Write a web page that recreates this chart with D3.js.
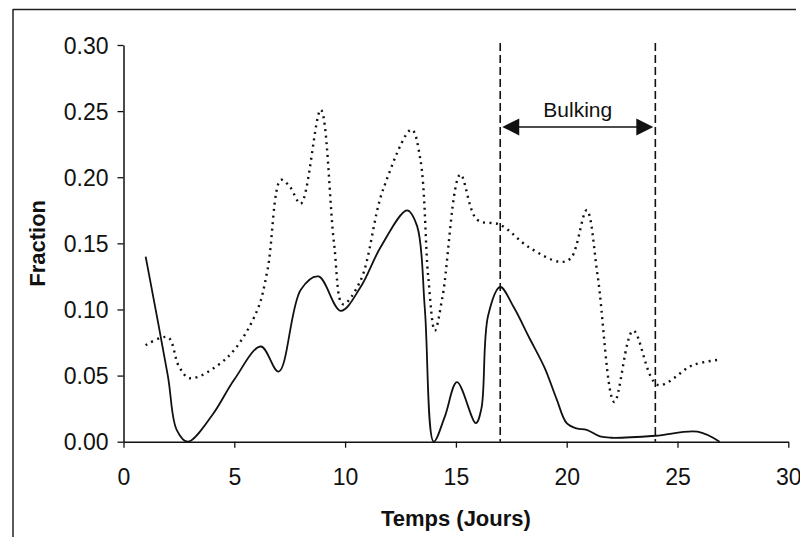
<!DOCTYPE html>
<html>
<head>
<meta charset="utf-8">
<script src="https://cdn.jsdelivr.net/npm/d3@7"></script>
<style>
  html, body { margin: 0; padding: 0; background: #fff; }
  svg { display: block; font-family: "Liberation Sans", Arial, sans-serif; }
</style>
</head>
<body>
<svg id="chart" width="800" height="537"></svg>
<script>
// ---- data ----
const xTicks = [0, 5, 10, 15, 20, 25, 30];
const yTicks = [0, 0.05, 0.10, 0.15, 0.20, 0.25, 0.30];

const solidDays   = [1, 2, 2.4, 2.9, 4, 5, 6.2, 7, 8, 8.8, 9.8, 10.7, 11.6, 12.8, 13.25, 13.6, 14.0, 14.5, 15.05, 15.9, 16.15, 16.45, 17, 17.6, 18.3, 19, 19.55, 20, 20.45, 20.9, 21.5, 22, 24, 25.9, 26.9];
const solidValues = [0.140, 0.050, 0.009, 0.000, 0.020, 0.047, 0.072, 0.053, 0.115, 0.125, 0.099, 0.117, 0.147, 0.175, 0.163, 0.100, 0.000, 0.019, 0.045, 0.014, 0.025, 0.095, 0.117, 0.102, 0.079, 0.056, 0.032, 0.014, 0.010, 0.009, 0.004, 0.003, 0.0045, 0.0076, 0.000];

const dottedDays   = [1, 2, 2.5, 3, 4.7, 6, 6.5, 7.1, 7.5, 8, 8.9, 9.5, 9.9, 10.7, 11.7, 13.0, 13.4, 13.75, 14.05, 14.4, 15.2, 15.95, 17, 18.3, 19.7, 20.2, 20.9, 21.4, 22.15, 23, 24.1, 25.7, 26.9];
const dottedValues = [0.073, 0.079, 0.057, 0.048, 0.064, 0.098, 0.130, 0.198, 0.193, 0.180, 0.251, 0.150, 0.104, 0.122, 0.190, 0.236, 0.213, 0.125, 0.084, 0.110, 0.202, 0.168, 0.164, 0.147, 0.136, 0.139, 0.175, 0.125, 0.030, 0.084, 0.043, 0.058, 0.062];

const bulkingStart = 17;
const bulkingEnd = 24;
const bulkingLabel = "Bulking";
const bulkingArrowLevel = 0.238;
const xTitle = "Temps (Jours)";
const yTitle = "Fraction";

// ---- layout ----
const svg = d3.select("#chart");
const pLeft = 123.5, pRight = 788.3, pTop = 45, pBottom = 441.7;

const x = d3.scaleLinear().domain([0, 30]).range([pLeft, pRight]);
const y = d3.scaleLinear().domain([0, 0.30]).range([pBottom, pTop]);

// outer frame (top & left edges visible)
svg.append("line").attr("x1", 13).attr("x2", 796).attr("y1", 9.5).attr("y2", 9.5)
  .attr("stroke", "#222").attr("stroke-width", 1.5);
svg.append("line").attr("x1", 13).attr("x2", 13).attr("y1", 9).attr("y2", 537)
  .attr("stroke", "#222").attr("stroke-width", 1.5);

// axes
const xAxis = svg.append("g").attr("transform", `translate(0,${pBottom})`)
  .call(d3.axisBottom(x).tickValues(xTicks).tickFormat(d3.format("d")).tickSize(6).tickSizeOuter(0));
const yAxis = svg.append("g").attr("transform", `translate(${pLeft},0)`)
  .call(d3.axisLeft(y).tickValues(yTicks).tickFormat(d3.format(".2f")).tickSize(6).tickSizeOuter(0));

[xAxis, yAxis].forEach(g => {
  g.selectAll("path.domain").attr("stroke", "#111").attr("stroke-width", 1.5);
  g.selectAll(".tick line").attr("stroke", "#111").attr("stroke-width", 1.3);
  g.selectAll(".tick text").attr("fill", "#111")
    .style("font-size", "23px").style("font-family", "'Liberation Sans', Arial, sans-serif");
});
xAxis.selectAll(".tick text").attr("dy", null).attr("y", 43);
yAxis.selectAll(".tick text").attr("x", -15).attr("dy", "0.36em");

// axis titles
svg.append("text").attr("x", (pLeft + pRight) / 2).attr("y", 526)
  .attr("text-anchor", "middle").style("font-size", "22px").style("font-weight", "bold")
  .attr("fill", "#111").text(xTitle);
svg.append("text").attr("transform", `translate(45,${(pTop + pBottom) / 2}) rotate(-90)`)
  .attr("text-anchor", "middle").style("font-size", "22px").style("font-weight", "bold")
  .attr("fill", "#111").text(yTitle);

// lines
const line = d3.line().curve(d3.curveCatmullRom.alpha(0.5))
  .x(d => x(d[0])).y(d => y(d[1]));

const dottedData = dottedDays.map((d, i) => [d, dottedValues[i]]);
const solidData = solidDays.map((d, i) => [d, solidValues[i]]);

svg.append("path").datum(dottedData).attr("d", line)
  .attr("fill", "none").attr("stroke", "#111").attr("stroke-width", 2.4)
  .attr("stroke-dasharray", "2,4.5").attr("stroke-linecap", "butt");

svg.append("path").datum(solidData).attr("d", line)
  .attr("fill", "none").attr("stroke", "#111").attr("stroke-width", 1.8);

// bulking markers
[bulkingStart, bulkingEnd].forEach(v => {
  svg.append("line").attr("x1", x(v)).attr("x2", x(v)).attr("y1", y(0.30) - 2).attr("y2", y(0))
    .attr("stroke", "#111").attr("stroke-width", 1.6).attr("stroke-dasharray", "8,4");
});

const ay = y(bulkingArrowLevel);
const ah = 17, aw = 8.5;
svg.append("line").attr("x1", x(bulkingStart) + ah).attr("x2", x(bulkingEnd) - ah)
  .attr("y1", ay).attr("y2", ay).attr("stroke", "#111").attr("stroke-width", 1.6);
const ax0 = x(bulkingStart) + 2, ax1 = x(bulkingEnd) - 2;
svg.append("path").attr("d", `M${ax0},${ay} L${ax0 + ah},${ay - aw} L${ax0 + ah},${ay + aw} Z`).attr("fill", "#111");
svg.append("path").attr("d", `M${ax1},${ay} L${ax1 - ah},${ay - aw} L${ax1 - ah},${ay + aw} Z`).attr("fill", "#111");

svg.append("text").attr("x", x((bulkingStart + bulkingEnd) / 2)).attr("y", 117)
  .attr("text-anchor", "middle").style("font-size", "21px").attr("fill", "#111").text(bulkingLabel);
</script>
</body>
</html>
